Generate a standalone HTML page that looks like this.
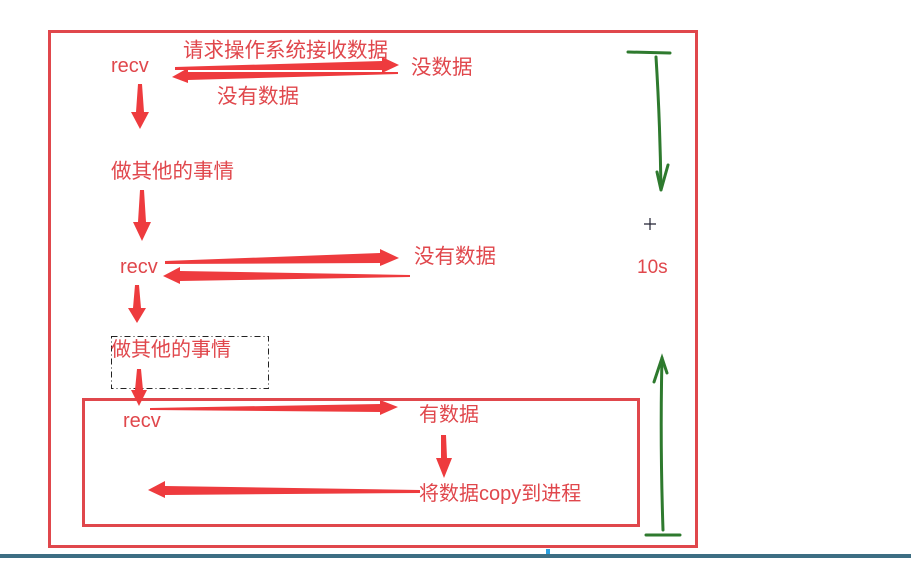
<!DOCTYPE html>
<html><head><meta charset="utf-8"><style>
body{margin:0;background:#fff;}
svg text{font-family:"Liberation Sans","Noto Sans CJK SC",sans-serif;fill:#e0474c;}
</style></head><body>
<svg width="911" height="558" viewBox="0 0 911 558" xmlns="http://www.w3.org/2000/svg">
<rect x="0" y="0" width="911" height="558" fill="#fff"/>
<rect x="49.5" y="31.5" width="647" height="515" fill="none" stroke="#e0474c" stroke-width="3"/>
<rect x="83.5" y="399.5" width="555" height="126" fill="none" stroke="#e0474c" stroke-width="3"/>
<rect x="111.5" y="336.5" width="157" height="52" fill="none" stroke="#222" stroke-width="1" stroke-dasharray="6,3,1,3"/>
<g fill="#ee3b3e">
<polygon points="175,67 382,61 382,57 399,65 382,73 382,70 175,70"/>
<polygon points="398,72 188,72 188,68 172,77 188,83 188,80 398,74"/>
<polygon points="138,84 142,84 144,112 149,112 140,129 131,112 136,112"/>
<polygon points="140,190 144,190 146,222 151,222 142,241 133,222 138,222"/>
<polygon points="135,285 139,285 141,308 146,308 137,323 128,308 133,308"/>
<polygon points="137,369 141,369 143,390 147,390 139,406 131,390 135,390"/>
<polygon points="165,261 380,253 380,249 399,258 380,266 380,263 165,264"/>
<polygon points="410,275 180,271 180,267 163,276 180,284 180,281 410,277"/>
<polygon points="150,408 380,404 380,400 398,407 380,415 380,412 150,410"/>
<polygon points="441,435 446,435 447,458 452,458 444,478 436,458 441,458"/>
<polygon points="420,490 165,486 165,481 148,490 165,498 165,495 420,493"/>
</g>
<g fill="none" stroke="#2e7a2e" stroke-width="3" stroke-linecap="round">
<path d="M628,52 L670,53"/>
<path d="M656,57 Q660,120 661,190"/>
<path d="M657,172 L661,190 L668,165"/>
<path d="M663,530 Q660,440 662,358"/>
<path d="M654,382 L662,358 L667,373"/>
<path d="M646,535 L680,535"/>
</g>
<g stroke="#223" stroke-width="1.2"><path d="M644,224 L656,224 M650,218 L650,230"/></g>
<text x="111" y="72" font-size="20">recv</text>
<text x="183" y="57" font-size="20.5">请求操作系统接收数据</text>
<text x="411" y="74" font-size="20.5">没数据</text>
<text x="217" y="103" font-size="20.5">没有数据</text>
<text x="111" y="178" font-size="20.5">做其他的事情</text>
<text x="120" y="273" font-size="20">recv</text>
<text x="414" y="263" font-size="20.5">没有数据</text>
<text x="637" y="273" font-size="19">10s</text>
<text x="111" y="356" font-size="20">做其他的事情</text>
<text x="123" y="427" font-size="20">recv</text>
<text x="419" y="421" font-size="20">有数据</text>
<text x="419" y="500" font-size="20">将数据copy到进程</text>
<rect x="0" y="554" width="911" height="4" fill="#3d6e83"/>
<rect x="546" y="549" width="4" height="5" fill="#2aa0e0"/>
</svg>
</body></html>
